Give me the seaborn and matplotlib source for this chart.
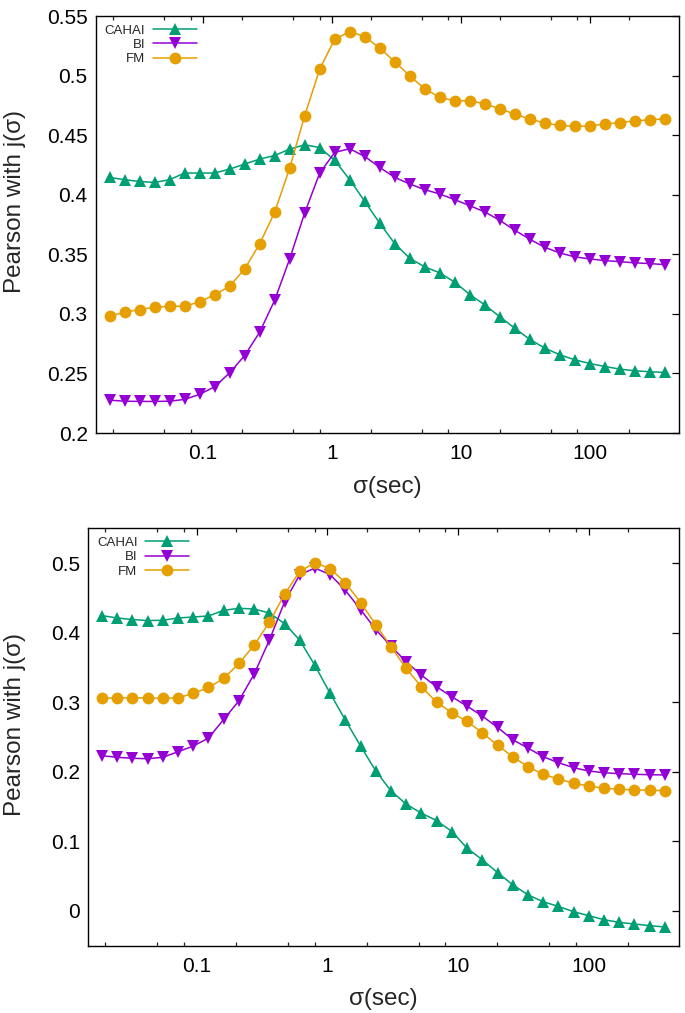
import numpy as np
import pandas as pd
import matplotlib
matplotlib.use("Agg")
import matplotlib.pyplot as plt
import seaborn as sns
from matplotlib.ticker import FixedLocator, NullFormatter, FuncFormatter

sns.set_theme(style="white")
plt.rcParams['font.family'] = ['Liberation Sans', 'DejaVu Sans']

sigma = [0.01884, 0.02462, 0.03219, 0.04209, 0.05502, 0.07194, 0.09406, 0.1230,
         0.1608, 0.2102, 0.2748, 0.3593, 0.4697, 0.6141, 0.8028, 1.0495,
         1.372, 1.794, 2.346, 3.066, 4.009, 5.241, 6.852, 8.959,
         11.71, 15.31, 20.02, 26.17, 34.21, 44.73, 58.48, 76.45,
         99.95, 130.7, 170.8, 223.4, 292.0, 381.8]

series_names = ["CAHAI", "BI", "FM"]

top_cahai = [0.4145, 0.4126, 0.4111, 0.4103, 0.4126, 0.4182, 0.4182, 0.4182,
             0.4215, 0.4257, 0.4299, 0.4329, 0.4383, 0.4419, 0.4396, 0.4288,
             0.4126, 0.3944, 0.3760, 0.3589, 0.3466, 0.3394, 0.3344, 0.3265,
             0.3162, 0.3075, 0.2975, 0.2879, 0.2785, 0.2712, 0.2656, 0.2614,
             0.2583, 0.2558, 0.2536, 0.2522, 0.2514, 0.2508]
top_bi = [0.2276, 0.2267, 0.2265, 0.2265, 0.2267, 0.2282, 0.2324, 0.2388,
          0.2505, 0.2650, 0.2846, 0.3114, 0.3461, 0.3847, 0.4182, 0.4355,
          0.4386, 0.4321, 0.4229, 0.4145, 0.4090, 0.4042, 0.4006, 0.3958,
          0.3908, 0.3855, 0.3785, 0.3701, 0.3626, 0.3558, 0.3511, 0.3478,
          0.3461, 0.3447, 0.3438, 0.3428, 0.3422, 0.3413]
top_fm = [0.2980, 0.3013, 0.3036, 0.3055, 0.3064, 0.3064, 0.3100, 0.3162,
          0.3231, 0.3377, 0.3587, 0.3853, 0.4224, 0.4662, 0.5054, 0.5305,
          0.5369, 0.5327, 0.5230, 0.5117, 0.4997, 0.4889, 0.4816, 0.4788,
          0.4788, 0.4763, 0.4721, 0.4676, 0.4635, 0.4601, 0.4581, 0.4573,
          0.4578, 0.4593, 0.4606, 0.4620, 0.4629, 0.4637]

bot_cahai = [0.4245, 0.4211, 0.4188, 0.4174, 0.4178, 0.4211, 0.4225, 0.4240,
             0.4321, 0.4350, 0.4340, 0.4283, 0.4131, 0.3891, 0.3528, 0.3126,
             0.2743, 0.2370, 0.2011, 0.1725, 0.1534, 0.1405, 0.1298, 0.1141,
             0.0902, 0.0735, 0.0552, 0.0376, 0.0232, 0.0132, 0.0065, -0.0011,
             -0.0069, -0.0126, -0.0165, -0.0188, -0.0212, -0.0231]
bot_bi = [0.2231, 0.2208, 0.2194, 0.2188, 0.2208, 0.2288, 0.2370, 0.2485,
          0.2753, 0.3020, 0.3403, 0.3891, 0.4440, 0.4834, 0.4928, 0.4834,
          0.4608, 0.4331, 0.4044, 0.3805, 0.3580, 0.3389, 0.3221, 0.3078,
          0.2944, 0.2801, 0.2638, 0.2461, 0.2341, 0.2217, 0.2131, 0.2059,
          0.2011, 0.1987, 0.1973, 0.1964, 0.1958, 0.1954]
bot_fm = [0.3055, 0.3063, 0.3063, 0.3063, 0.3055, 0.3063, 0.3126, 0.3212,
          0.3341, 0.3557, 0.3819, 0.4149, 0.4551, 0.4881, 0.5006, 0.4920,
          0.4719, 0.4432, 0.4116, 0.3795, 0.3485, 0.3221, 0.3001, 0.2848,
          0.2724, 0.2561, 0.2380, 0.2217, 0.2073, 0.1964, 0.1897, 0.1835,
          0.1796, 0.1763, 0.1749, 0.1739, 0.1735, 0.1729]

x_ticks = [0.1, 1, 10, 100]
top_yticks = [0.2, 0.25, 0.3, 0.35, 0.4, 0.45, 0.5, 0.55]
bot_yticks = [0, 0.1, 0.2, 0.3, 0.4, 0.5]

colors = {"CAHAI": "#009e73", "BI": "#9400d3", "FM": "#e69f00"}
markers = {"CAHAI": "^", "BI": "v", "FM": "o"}

W, H = 685, 1013
fig = plt.figure(figsize=(W / 100, H / 100), dpi=100)
ax1 = fig.add_axes([96 / W, 1 - 433 / H, (679 - 96) / W, (433 - 16) / H])
ax2 = fig.add_axes([88.3 / W, 1 - 945.7 / H, (679 - 88.3) / W, (945.7 - 528.3) / H])


def make_df(vals):
    frames = []
    for name, v in zip(series_names, vals):
        frames.append(pd.DataFrame({"sigma": sigma, "r": v, "series": name}))
    return pd.concat(frames, ignore_index=True)


def fmt(v, pos):
    return "%g" % v


def draw(ax, vals, ylim, yticks, ylabel_x, ylabel_y):
    df = make_df(vals)
    sns.lineplot(data=df, x="sigma", y="r", hue="series", style="series",
                 hue_order=series_names, style_order=series_names,
                 palette=colors, markers=markers, dashes=False,
                 markersize=8.5, markeredgewidth=0, linewidth=1.1,
                 legend=False, ax=ax, sort=False)
    ax.set_xscale("log")
    ax.set_xlim(0.0148, 490)
    ax.set_ylim(*ylim)
    ax.xaxis.set_major_locator(FixedLocator(x_ticks))
    ax.xaxis.set_major_formatter(FuncFormatter(fmt))
    minors = [m * 10.0 ** e for e in range(-2, 3) for m in (2, 5, 8)]
    ax.xaxis.set_minor_locator(FixedLocator(minors))
    ax.xaxis.set_minor_formatter(NullFormatter())
    ax.yaxis.set_major_locator(FixedLocator(yticks))
    ax.yaxis.set_major_formatter(FuncFormatter(fmt))
    ax.tick_params(which="major", direction="in", length=5, width=0.9,
                   top=True, right=True, labelsize=15, pad=6, colors="black")
    ax.tick_params(which="minor", direction="in", length=3, width=0.9,
                   top=True, right=True, bottom=True)
    ax.tick_params(axis="x", which="major", pad=8)
    for s in ax.spines.values():
        s.set_visible(True)
        s.set_color("black")
        s.set_linewidth(1.0)
    ax.set_xlabel("σ(sec)", fontsize=17.5, labelpad=9)
    ax.set_ylabel("Pearson with j(σ)", fontsize=17.5)
    ax.yaxis.set_label_coords(ylabel_x, ylabel_y)
    ax.grid(False)
    handles = []
    for name in series_names:
        handles.append(plt.Line2D([], [], color=colors[name], marker=markers[name],
                                  markersize=8.5, markeredgewidth=0, linewidth=1.1,
                                  label=name))
    ax.legend(handles=handles, loc="upper left", markerfirst=False, frameon=False,
              fontsize=9.5, handlelength=3.3, handletextpad=0.6,
              labelspacing=0.15, borderaxespad=0.45, borderpad=0.2)


draw(ax1, [top_cahai, top_bi, top_fm], (0.2, 0.55), top_yticks, -0.12, 0.555)
draw(ax2, [bot_cahai, bot_bi, bot_fm], (-0.05, 0.55), bot_yticks, -0.106, 0.53)

fig.savefig("out.png", dpi=100)
